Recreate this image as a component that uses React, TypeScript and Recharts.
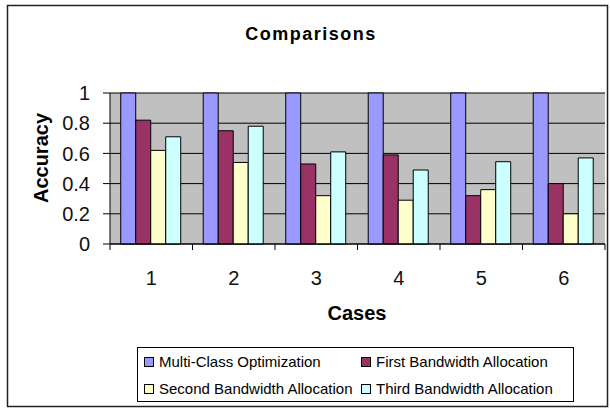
import React from "react";
import { Bar, BarChart, CartesianGrid, Label, XAxis, YAxis } from "recharts";

const CASES = ["1", "2", "3", "4", "5", "6"];
const MULTI_CLASS = [1, 1, 1, 1, 1, 1];
const FIRST_BW = [0.82, 0.75, 0.53, 0.59, 0.32, 0.4];
const SECOND_BW = [0.62, 0.54, 0.32, 0.29, 0.36, 0.2];
const THIRD_BW = [0.71, 0.78, 0.61, 0.49, 0.545, 0.57];
const Y_TICKS = [0, 0.2, 0.4, 0.6, 0.8, 1];

const SERIES = [
  { key: "multi", name: "Multi-Class Optimization", color: "#9999ff" },
  { key: "first", name: "First Bandwidth Allocation", color: "#993366" },
  { key: "second", name: "Second Bandwidth Allocation", color: "#ffffcc" },
  { key: "third", name: "Third Bandwidth Allocation", color: "#ccffff" },
];

const data = CASES.map((c, i) => ({
  name: c,
  multi: MULTI_CLASS[i],
  first: FIRST_BW[i],
  second: SECOND_BW[i],
  third: THIRD_BW[i],
}));

const FONT = "'Liberation Sans', Arial, sans-serif";
const PLOT_LEFT = 110;
const PLOT_RIGHT = 605;
const PLOT_BOTTOM = 244;
const BAND = (PLOT_RIGHT - PLOT_LEFT) / CASES.length;

// Excel style: tick marks sit between categories, labels in the middle
function CaseTick(props: any) {
  const { x, payload, index } = props;
  const half = BAND / 2;
  return (
    <g>
      <line x1={x - half} y1={PLOT_BOTTOM} x2={x - half} y2={PLOT_BOTTOM + 6} stroke="#000" />
      {index === CASES.length - 1 && (
        <line x1={x + half} y1={PLOT_BOTTOM} x2={x + half} y2={PLOT_BOTTOM + 6} stroke="#000" />
      )}
      <text x={x} y={285} textAnchor="middle" fontSize={20} fontFamily={FONT} fill="#111">
        {payload.value}
      </text>
    </g>
  );
}

function LegendBox() {
  const rows = [
    [SERIES[0], SERIES[1]],
    [SERIES[2], SERIES[3]],
  ];
  return (
    <div
      style={{
        position: "absolute",
        left: 137,
        top: 347,
        width: 437,
        height: 55,
        border: "1px solid #000",
        boxSizing: "border-box",
        fontFamily: FONT,
        fontSize: 15,
        color: "#000",
        background: "#fff",
      }}
    >
      {rows.map((row, r) =>
        row.map((s, c) => (
          <div
            key={s.key}
            style={{
              position: "absolute",
              left: c === 0 ? 6 : 223,
              top: r === 0 ? 5 : 32,
              display: "flex",
              alignItems: "center",
              whiteSpace: "nowrap",
              lineHeight: "18px",
            }}
          >
            <span
              style={{
                display: "inline-block",
                width: 8,
                height: 8,
                background: s.color,
                border: "1px solid #000",
                marginRight: 5,
              }}
            />
            {s.name}
          </div>
        ))
      )}
    </div>
  );
}

export default function App() {
  return (
    <div style={{ position: "relative", width: 610, height: 409, background: "#fff" }}>
      <style>{"body{margin:0}"}</style>
      <BarChart
        width={610}
        height={409}
        data={data}
        margin={{ top: 93, right: 5, left: 0, bottom: 0 }}
        barCategoryGap="13%"
        barGap={0}
      >
        <CartesianGrid vertical={false} stroke="#000" fill="#c0c0c0" fillOpacity={1} />
        <XAxis
          dataKey="name"
          height={165}
          tickLine={false}
          axisLine={{ stroke: "#000" }}
          tick={<CaseTick />}
          interval={0}
        >
          <Label
            content={() => (
              <text x={357} y={320} textAnchor="middle" fontSize={20} fontWeight="bold" fontFamily={FONT} fill="#000">
                Cases
              </text>
            )}
          />
        </XAxis>
        <YAxis
          width={110}
          domain={[0, 1]}
          ticks={Y_TICKS}
          tickSize={7}
          tickMargin={13}
          axisLine={{ stroke: "#000" }}
          tickLine={{ stroke: "#000" }}
          tick={{ fontSize: 20, fill: "#111", fontFamily: FONT }}
        >
          <Label
            content={() => (
              <text
                x={48}
                y={158}
                transform="rotate(-90 48 158)"
                textAnchor="middle"
                fontSize={20}
                fontWeight="bold"
                fontFamily={FONT}
                fill="#000"
              >
                Accuracy
              </text>
            )}
          />
        </YAxis>
        {SERIES.map((s) => (
          <Bar
            key={s.key}
            dataKey={s.key}
            name={s.name}
            fill={s.color}
            stroke="#000"
            strokeWidth={1}
            isAnimationActive={false}
          />
        ))}
      </BarChart>
      <svg
        width={610}
        height={409}
        style={{ position: "absolute", left: 0, top: 0, pointerEvents: "none" }}
      >
        <rect x={7.5} y={5.5} width={600} height={401} fill="none" stroke="#222" strokeWidth={1.5} />
        <text
          x={311}
          y={40}
          textAnchor="middle"
          fontSize={18}
          fontWeight="bold"
          letterSpacing={1.5}
          fontFamily={FONT}
          fill="#000"
        >
          Comparisons
        </text>
      </svg>
      <LegendBox />
    </div>
  );
}
